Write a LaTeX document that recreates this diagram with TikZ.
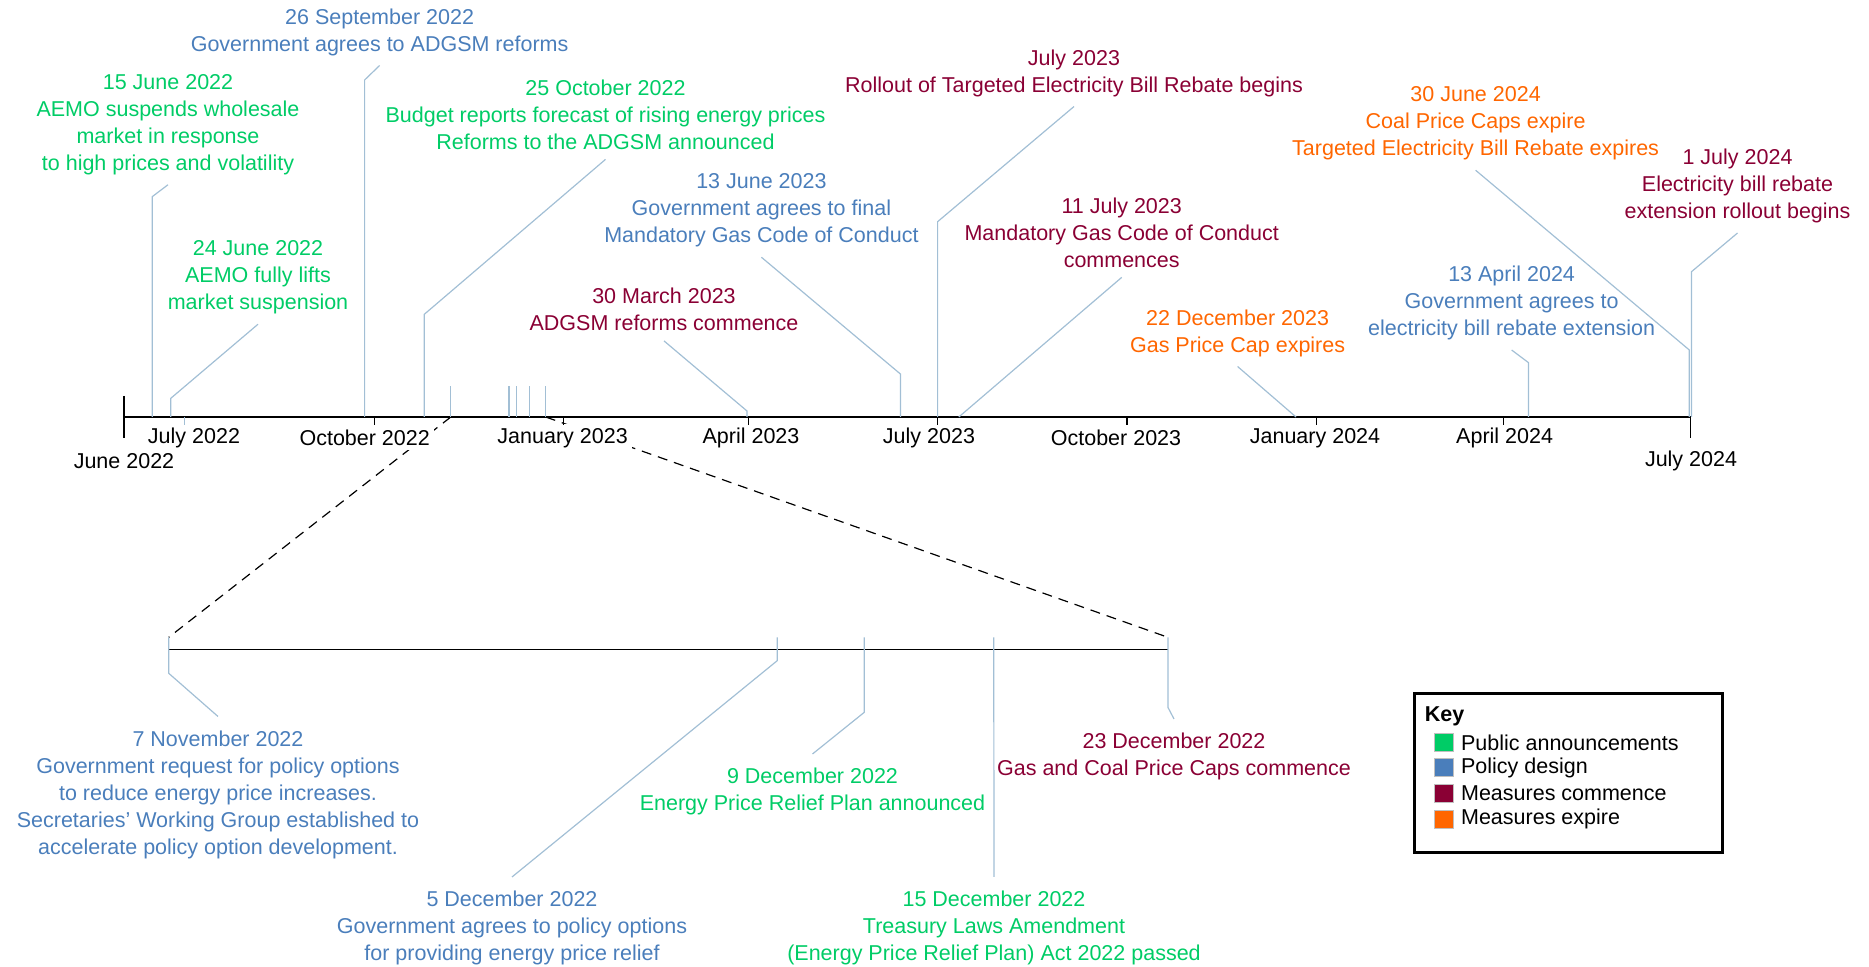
\documentclass[tikz,border=0pt]{standalone}
\usepackage{fontspec}
\setmainfont{Liberation Sans}
\definecolor{announcecol}{HTML}{00CC66}
\definecolor{designcol}{HTML}{4A7EBB}
\definecolor{commencecol}{HTML}{8A0034}
\definecolor{expirecol}{HTML}{FF6600}
\definecolor{leadcol}{HTML}{A2BFD5}
\newcommand\eventfont{\fontsize{10.75}{13.5}\selectfont}
\tikzset{
	labelstyle/.style={align=center, inner sep=0pt, font=\eventfont},
	upstyle/.style={labelstyle, outer ysep=5pt},
	downstyle/.style={labelstyle, outer ysep=7pt},
	announcestyle/.style={text=announcecol},
	designstyle/.style={text=designcol},
	commencestyle/.style={text=commencecol},
	expirestyle/.style={text=expirecol},
	leadstyle/.style={draw=leadcol, line width=0.6pt},
	axisstyle/.style={draw=black, line width=0.6pt},
	zoomstyle/.style={draw=black, line width=0.6pt, dash pattern=on 5pt off 3.5pt},
	datestyle/.style={fill=white, inner sep=2pt, font=\eventfont},
	swatchstyle/.style={draw=black!25, line width=0.5pt, minimum size=9.2pt, inner sep=0pt},
	keytextstyle/.style={anchor=west, inner sep=0pt, font=\eventfont}
}

\begin{document}
\begin{tikzpicture}[x=0.5pt, y=-0.5pt]
\useasboundingbox (0,0) rectangle (1869,967);

\def\axisy{417}
\def\zoomy{649.3}
\def\zoomtop{637.3}

% main timeline
\coordinate (start) at (124, \axisy);
\coordinate (end) at (1690.6, \axisy);

\coordinate (m1) at (450.8, \axisy);
\coordinate (m2) at (508.9, \axisy);
\coordinate (m3) at (516.8, \axisy);
\coordinate (m4) at (529.5, \axisy);
\coordinate (m5) at (545.7, \axisy);

% zoomed timeline
\coordinate (k1) at (168.75, \zoomtop);
\coordinate (k2) at (777.2, \zoomtop);
\coordinate (k3) at (864.3, \zoomtop);
\coordinate (k4) at (993.75, \zoomtop);
\coordinate (k5) at (1167.9, \zoomtop);

\draw[zoomstyle] (m1)--(k1);
\draw[zoomstyle] (m5)--(k5);

\node[datestyle] (jun22) at (124, 461)   {June 2022};
\node[datestyle] (jul22) at (194, 438)   {July 2022};
\node[datestyle] (oct22) at (364.7, 438) {October 2022};
\node[datestyle] (jan23) at (562.6, 438) {January 2023};
\node[datestyle] (apr23) at (751, 438)   {April 2023};
\node[datestyle] (jul23) at (929, 438)   {July 2023};
\node[datestyle] (oct23) at (1116, 438)  {October 2023};
\node[datestyle] (jan24) at (1315, 438)  {January 2024};
\node[datestyle] (apr24) at (1504.6, 438) {April 2024};
\node[datestyle] (jul24) at (1691, 461)  {July 2024};

\draw[axisstyle] (start)--(end);
\draw[axisstyle] (124, 396)--(124, 438);
\draw[leadstyle] (184.7, \axisy)--(184.7, 425);
\draw[axisstyle] (374.5, \axisy)--(374.5, 425);
\draw[axisstyle] (563.4, \axisy)--(563.4, 425);
\draw[axisstyle] (748.6, \axisy)--(748.6, 425);
\draw[axisstyle] (937.6, \axisy)--(937.6, 425);
\draw[axisstyle] (1127, \axisy)--(1127, 425);
\draw[axisstyle] (1316.5, \axisy)--(1316.5, 425);
\draw[axisstyle] (1503.3, \axisy)--(1503.3, 425);
\draw[axisstyle] (1690.6, \axisy)--(1690.6, 438);

\draw[leadstyle] (m1)--++(0, -31);
\draw[leadstyle] (m2)--++(0, -31);
\draw[leadstyle] (m3)--++(0, -31);
\draw[leadstyle] (m4)--++(0, -31);
\draw[leadstyle] (m5)--++(0, -31);

% events above the main timeline
\node[upstyle, announcestyle] (e1) at (168, 124.5) {15 June 2022\\AEMO suspends wholesale\\market in response\\to high prices and volatility};
\node[upstyle, announcestyle] (e2) at (258, 277.5) {24 June 2022\\AEMO fully lifts\\market suspension};
\node[upstyle, designstyle] (e3) at (379.6, 32) {26 September 2022\\Government agrees to ADGSM reforms};
\node[upstyle, announcestyle] (e4) at (605.5, 114.5) {25 October 2022\\Budget reports forecast of rising energy prices\\Reforms to the ADGSM announced};
\node[upstyle, commencestyle] (e5) at (664, 309.5) {30 March 2023\\ADGSM reforms commence};
\node[upstyle, designstyle] (e6) at (761.4, 210.5) {13 June 2023\\Government agrees to final\\Mandatory Gas Code of Conduct};
\node[upstyle, commencestyle] (e7) at (1074, 73) {July 2023\\Rollout of Targeted Electricity Bill Rebate begins};
\node[upstyle, commencestyle] (e8) at (1121.7, 232.5) {11 July 2023\\Mandatory Gas Code of Conduct\\commences};
\node[upstyle, expirestyle] (e9) at (1237.6, 333) {22 December 2023\\Gas Price Cap expires};
\node[upstyle, expirestyle] (e10) at (1475.6, 123.5) {30 June 2024\\Coal Price Caps expire\\Targeted Electricity Bill Rebate expires};
\node[upstyle, commencestyle] (e11) at (1737.5, 186) {1 July 2024\\Electricity bill rebate\\extension rollout begins};
\node[upstyle, designstyle] (e12) at (1511.6, 303) {13 April 2024\\Government agrees to\\electricity bill rebate extension};

\coordinate (t1) at (152.2, \axisy);
\coordinate (t2) at (170.8, \axisy);
\coordinate (t3) at (364.6, \axisy);
\coordinate (t4) at (424.3, \axisy);
\coordinate (t5) at (747, \axisy);
\coordinate (t6) at (900.4, \axisy);
\coordinate (t7) at (937.6, \axisy);
\coordinate (t8) at (958.8, \axisy);
\coordinate (t9) at (1296, \axisy);
\coordinate (t10) at (1689.3, \axisy);
\coordinate (t11) at (1691.5, \axisy);
\coordinate (t12) at (1528.5, \axisy);

\draw[leadstyle] (e1.south)--(152.2, 196.7)--(t1);
\draw[leadstyle] (e2.south)--(170.8, 398.3)--(t2);
\draw[leadstyle] (e3.south)--(364.6, 80)--(t3);
\draw[leadstyle] (e4.south)--(424.3, 314.3)--(t4);
\draw[leadstyle] (e5.south)--(747, 411)--(t5);
\draw[leadstyle] (e6.south)--(900.4, 374)--(t6);
\draw[leadstyle] (e7.south)--(937.6, 221.7)--(t7);
\draw[leadstyle] (e8.south)--(t8);
\draw[leadstyle] (e9.south)--(t9);
\draw[leadstyle] (e10.south)--(1689.3, 350)--(t10);
\draw[leadstyle] (e11.south)--(1691.5, 271.7)--(t11);
\draw[leadstyle] (e12.south)--(1528.5, 362.7)--(t12);

% zoomed timeline, November to December 2022
\draw[axisstyle] (168.75, \zoomy)--(1167.9, \zoomy);

\node[downstyle, designstyle] (z1) at (218, 794.5) {7 November 2022\\Government request for policy options\\to reduce energy price increases.\\Secretaries’ Working Group established to\\accelerate policy option development.};
\node[downstyle, designstyle] (z2) at (512, 928) {5 December 2022\\Government agrees to policy options\\for providing energy price relief};
\node[downstyle, announcestyle] (z3) at (812.5, 791.5) {9 December 2022\\Energy Price Relief Plan announced};
\node[downstyle, announcestyle] (z4) at (994, 928) {15 December 2022\\Treasury Laws Amendment\\(Energy Price Relief Plan) Act 2022 passed};
\node[downstyle, commencestyle] (z5) at (1174, 756.5) {23 December 2022\\Gas and Coal Price Caps commence};

\draw[leadstyle] (k1)--(168.75, 673.3)--(z1.north);
\draw[leadstyle] (k2)--(777.2, 660.7)--(z2.north);
\draw[leadstyle] (k3)--(864.3, 712.3)--(z3.north);
\draw[leadstyle] (k4)--(z4.north);
\draw[leadstyle] (k5)--(1167.9, 707.3)--(z5.north);

% key
\node[draw=black, line width=1.5pt, minimum width=154pt, minimum height=79.5pt, inner sep=0pt] (key) at (1568.5, 772.8) {};
\node[keytextstyle, font=\eventfont\bfseries] (keytitle) at (1424.5, 716) {Key};

\node[swatchstyle, fill=announcecol] (sw1) at (1444, 742.7) {};
\node[swatchstyle, fill=designcol]   (sw2) at (1444, 767.7) {};
\node[swatchstyle, fill=commencecol] (sw3) at (1444, 793.3) {};
\node[swatchstyle, fill=expirecol]   (sw4) at (1444, 819.3) {};

\node[keytextstyle] (kt1) at (1460.7, 742.7) {Public announcements};
\node[keytextstyle] (kt2) at (1460.7, 767.7) {Policy design};
\node[keytextstyle] (kt3) at (1460.7, 793.3) {Measures commence};
\node[keytextstyle] (kt4) at (1460.7, 819.3) {Measures expire};
\end{tikzpicture}
\end{document}
